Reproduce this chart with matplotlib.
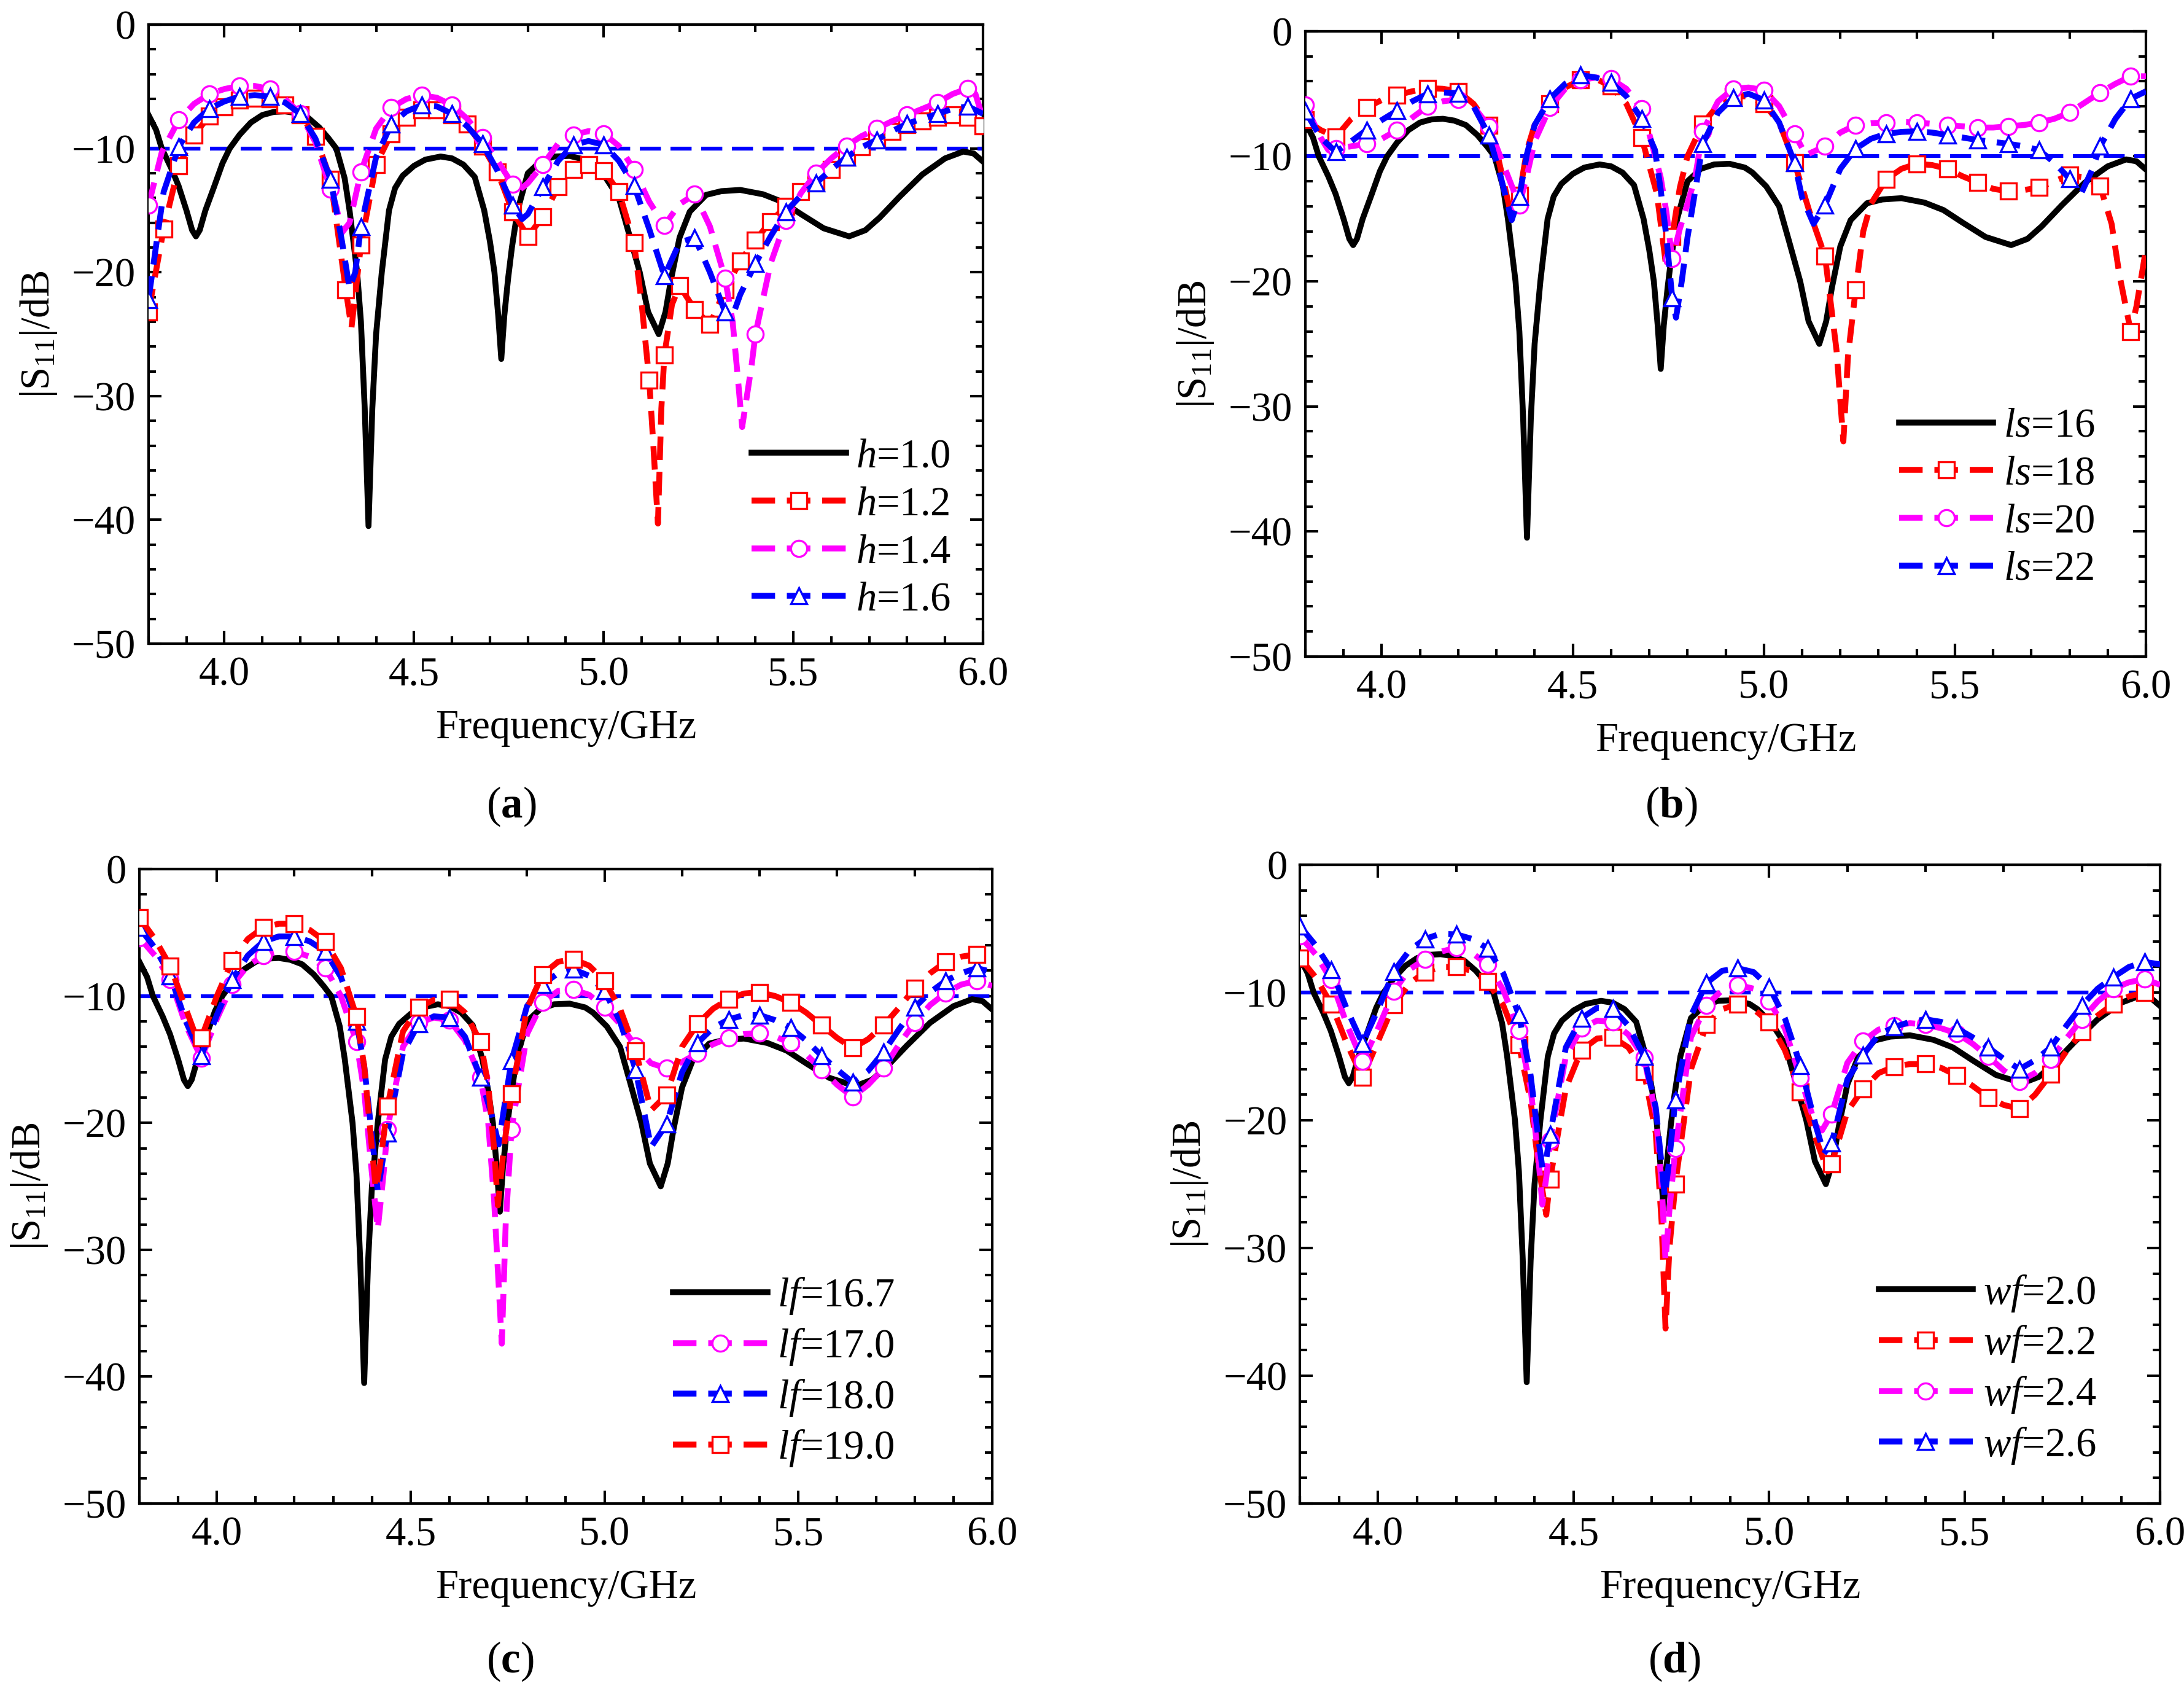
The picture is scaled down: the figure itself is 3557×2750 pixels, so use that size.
import numpy as np
import matplotlib
matplotlib.use("Agg")
import matplotlib.pyplot as plt
from matplotlib.lines import Line2D

# Times-like text, italic variable names in the legends
plt.rcParams['font.family'] = 'serif'
plt.rcParams['font.serif'] = ['Liberation Serif', 'DejaVu Serif']
plt.rcParams['mathtext.fontset'] = 'custom'
plt.rcParams['mathtext.rm'] = 'Liberation Serif'
plt.rcParams['mathtext.it'] = 'Liberation Serif:italic'
plt.rcParams['mathtext.bf'] = 'Liberation Serif:bold'

FS = 16

# -10 dB reference level
ref_level = -10

# reference antenna (h=1.0, ls=16, lf=16.7, wf=2.0), (GHz, dB)
base = [(3.80, -7.3), (3.82, -8.5), (3.835, -10.0), (3.86, -11.6), (3.879, -13.0),
        (3.90, -15.0), (3.915, -16.6), (3.925, -17.1), (3.935, -16.6), (3.95, -15.0),
        (3.974, -13.0), (3.995, -11.2), (4.014, -10.0), (4.04, -8.9), (4.07, -7.9),
        (4.10, -7.3), (4.13, -7.05), (4.16, -7.0), (4.19, -7.15), (4.22, -7.5),
        (4.25, -8.3), (4.275, -9.2), (4.295, -10.0), (4.317, -12.4), (4.33, -15.0),
        (4.34, -17.5), (4.35, -20.0), (4.36, -24.0), (4.37, -31.0), (4.38, -40.5),
        (4.39, -31.0), (4.40, -25.0), (4.415, -20.0), (4.434, -15.0), (4.45, -13.2),
        (4.47, -12.2), (4.50, -11.4), (4.53, -10.9), (4.57, -10.65), (4.60, -10.8),
        (4.63, -11.3), (4.66, -12.3), (4.685, -15.0), (4.70, -17.5), (4.712, -20.0),
        (4.722, -23.5), (4.73, -27.0), (4.738, -23.5), (4.748, -20.5), (4.758, -18.0),
        (4.773, -15.0), (4.80, -12.0), (4.835, -11.0), (4.87, -10.65), (4.91, -10.6),
        (4.95, -10.9), (4.97, -11.3), (5.006, -12.4), (5.04, -14.0), (5.065, -16.7),
        (5.095, -20.0), (5.117, -23.2), (5.145, -25.0), (5.163, -23.2), (5.178, -20.5),
        (5.20, -17.2), (5.227, -15.1), (5.27, -13.75), (5.31, -13.45), (5.36, -13.35),
        (5.42, -13.7), (5.47, -14.3), (5.52, -15.3), (5.58, -16.45), (5.647, -17.1),
        (5.69, -16.6), (5.727, -15.6), (5.78, -13.9), (5.84, -12.1), (5.90, -10.8),
        (5.948, -10.25), (5.975, -10.4), (6.00, -11.06)]

# (a) substrate thickness h
h12 = [(3.80, -23.2), (3.84, -16.5), (3.88, -11.4), (3.92, -8.9), (3.96, -7.4),
       (4.00, -6.65), (4.04, -6.1), (4.08, -5.95), (4.12, -6.0), (4.16, -6.5),
       (4.20, -7.3), (4.24, -9.0), (4.28, -12.5), (4.32, -21.4), (4.335, -24.5),
       (4.36, -17.8), (4.40, -11.3), (4.44, -8.8), (4.48, -7.5), (4.52, -6.9),
       (4.56, -6.9), (4.60, -7.3), (4.64, -8.05), (4.68, -9.8), (4.72, -11.9),
       (4.76, -15.1), (4.80, -17.1), (4.84, -15.5), (4.88, -13.1), (4.92, -11.7),
       (4.96, -11.3), (5.00, -11.8), (5.04, -13.5), (5.08, -17.6), (5.10, -22.5),
       (5.12, -28.7), (5.13, -33.5), (5.143, -40.3), (5.152, -31.0), (5.16, -26.7),
       (5.18, -22.6), (5.20, -21.1), (5.24, -23.0), (5.28, -24.2), (5.32, -21.4),
       (5.36, -19.1), (5.40, -17.4), (5.44, -15.9), (5.48, -14.7), (5.52, -13.5),
       (5.56, -12.7), (5.60, -11.7), (5.64, -10.7), (5.68, -9.85), (5.72, -9.2),
       (5.76, -8.6), (5.80, -8.1), (5.84, -7.8), (5.88, -7.5), (5.92, -7.3),
       (5.96, -7.5), (6.00, -8.2)]
h14 = [(3.80, -14.6), (3.835, -10.3), (3.88, -7.7), (3.92, -6.4), (3.96, -5.6),
       (4.00, -5.2), (4.04, -4.95), (4.08, -4.95), (4.12, -5.2), (4.16, -6.0),
       (4.20, -7.2), (4.24, -9.5), (4.28, -13.3), (4.295, -14.7), (4.31, -16.8),
       (4.33, -16.0), (4.36, -11.9), (4.40, -8.4), (4.44, -6.7), (4.48, -6.0),
       (4.52, -5.7), (4.56, -5.9), (4.60, -6.5), (4.64, -7.6), (4.68, -9.1),
       (4.72, -11.0), (4.76, -12.9), (4.78, -13.3), (4.80, -12.8), (4.84, -11.3),
       (4.88, -9.6), (4.92, -8.9), (4.96, -8.6), (5.00, -8.8), (5.04, -9.8),
       (5.08, -11.7), (5.12, -14.3), (5.16, -16.2), (5.20, -14.5), (5.24, -13.7),
       (5.28, -16.3), (5.32, -20.5), (5.34, -24.0), (5.355, -29.0), (5.365, -32.5),
       (5.375, -30.5), (5.39, -27.5), (5.40, -25.0), (5.44, -19.3), (5.48, -15.8),
       (5.52, -13.6), (5.56, -12.0), (5.60, -10.8), (5.64, -9.8), (5.68, -9.0),
       (5.72, -8.4), (5.76, -7.8), (5.80, -7.3), (5.84, -6.8), (5.88, -6.3),
       (5.92, -5.6), (5.96, -5.15), (5.98, -5.6), (6.00, -7.6)]
h16 = [(3.80, -22.2), (3.84, -13.5), (3.88, -9.85), (3.92, -7.9), (3.96, -6.8),
       (4.00, -6.2), (4.04, -5.8), (4.08, -5.7), (4.12, -5.8), (4.16, -6.3),
       (4.20, -7.2), (4.24, -9.2), (4.28, -12.5), (4.31, -17.5), (4.33, -21.3),
       (4.345, -20.0), (4.36, -16.3), (4.40, -10.7), (4.44, -8.05), (4.48, -7.0),
       (4.52, -6.5), (4.56, -6.6), (4.60, -7.2), (4.64, -8.2), (4.68, -9.6),
       (4.72, -11.8), (4.76, -14.6), (4.785, -15.7), (4.80, -15.3), (4.84, -13.1),
       (4.88, -11.0), (4.92, -9.7), (4.96, -9.4), (5.00, -9.7), (5.04, -11.0),
       (5.08, -13.0), (5.12, -16.5), (5.16, -20.3), (5.20, -17.6), (5.24, -17.2),
       (5.28, -20.0), (5.32, -23.2), (5.34, -23.5), (5.36, -21.8), (5.40, -19.3),
       (5.44, -17.1), (5.48, -15.1), (5.52, -13.8), (5.56, -12.8), (5.60, -11.7),
       (5.64, -10.7), (5.68, -9.9), (5.72, -9.3), (5.76, -8.6), (5.80, -8.0),
       (5.84, -7.6), (5.88, -7.2), (5.92, -6.8), (5.96, -6.6), (6.00, -7.2)]

# (b) slot length ls
ls18 = [(3.80, -7.1), (3.84, -7.9), (3.88, -8.45), (3.92, -7.0), (3.96, -6.1),
        (4.00, -5.5), (4.04, -5.1), (4.08, -4.8), (4.12, -4.55), (4.16, -4.6),
        (4.20, -4.8), (4.24, -5.8), (4.28, -7.5), (4.30, -9.5), (4.32, -12.2),
        (4.34, -14.9), (4.36, -13.1), (4.38, -9.5), (4.40, -7.5), (4.44, -5.8),
        (4.48, -4.5), (4.52, -3.9), (4.56, -3.8), (4.60, -4.4), (4.64, -5.8),
        (4.68, -8.5), (4.72, -13.0), (4.745, -19.0), (4.76, -16.4), (4.78, -12.5),
        (4.80, -10.0), (4.84, -7.4), (4.88, -5.9), (4.92, -5.2), (4.96, -5.2),
        (5.00, -5.8), (5.04, -7.3), (5.08, -10.5), (5.12, -14.5), (5.16, -18.0),
        (5.19, -25.5), (5.208, -32.8), (5.22, -26.0), (5.24, -20.7), (5.26, -16.0),
        (5.28, -13.8), (5.32, -11.85), (5.36, -11.0), (5.40, -10.6), (5.44, -10.7),
        (5.48, -11.0), (5.52, -11.6), (5.56, -12.1), (5.60, -12.6), (5.64, -12.8),
        (5.68, -12.7), (5.72, -12.5), (5.76, -12.0), (5.80, -11.5), (5.84, -11.7),
        (5.88, -12.4), (5.91, -15.4), (5.93, -19.4), (5.96, -24.0), (5.975, -22.0),
        (6.00, -17.4)]
ls20 = [(3.80, -5.9), (3.84, -8.5), (3.86, -9.5), (3.88, -9.4), (3.92, -9.2),
        (3.96, -9.0), (4.00, -8.6), (4.04, -7.9), (4.08, -6.9), (4.12, -6.0),
        (4.16, -5.6), (4.20, -5.45), (4.24, -6.0), (4.28, -7.6), (4.32, -10.8),
        (4.36, -13.9), (4.38, -11.5), (4.40, -8.8), (4.44, -6.1), (4.48, -4.6),
        (4.52, -3.9), (4.56, -3.7), (4.60, -3.8), (4.64, -4.6), (4.68, -6.2),
        (4.70, -8.2), (4.73, -11.7), (4.745, -14.5), (4.76, -18.2), (4.78, -15.8),
        (4.80, -13.8), (4.82, -11.7), (4.84, -8.0), (4.88, -5.6), (4.92, -4.6),
        (4.96, -4.5), (5.00, -4.7), (5.04, -6.0), (5.08, -8.2), (5.11, -9.9),
        (5.16, -9.2), (5.20, -8.1), (5.24, -7.5), (5.28, -7.35), (5.32, -7.3),
        (5.36, -7.25), (5.40, -7.3), (5.44, -7.4), (5.48, -7.5), (5.52, -7.6),
        (5.56, -7.7), (5.60, -7.7), (5.64, -7.6), (5.68, -7.5), (5.72, -7.3),
        (5.76, -7.0), (5.80, -6.5), (5.84, -5.7), (5.88, -4.9), (5.92, -4.2),
        (5.96, -3.6), (6.00, -3.6)]
ls22 = [(3.80, -6.4), (3.84, -8.5), (3.88, -9.65), (3.92, -8.8), (3.96, -7.9),
        (4.00, -7.1), (4.04, -6.35), (4.08, -5.6), (4.12, -5.0), (4.16, -4.9),
        (4.20, -4.95), (4.24, -6.0), (4.28, -8.3), (4.31, -11.5), (4.34, -15.1),
        (4.36, -13.2), (4.38, -9.8), (4.40, -7.5), (4.44, -5.4), (4.48, -4.2),
        (4.52, -3.5), (4.56, -3.7), (4.60, -4.1), (4.64, -5.2), (4.68, -7.0),
        (4.715, -9.5), (4.73, -12.7), (4.745, -16.5), (4.76, -21.3), (4.77, -22.9),
        (4.785, -20.0), (4.80, -16.5), (4.82, -12.8), (4.84, -9.0), (4.88, -6.5),
        (4.92, -5.3), (4.96, -5.0), (5.00, -5.5), (5.04, -7.3), (5.08, -10.5),
        (5.10, -13.3), (5.13, -15.4), (5.16, -13.9), (5.20, -11.0), (5.24, -9.4),
        (5.28, -8.6), (5.32, -8.2), (5.36, -8.05), (5.40, -8.0), (5.44, -8.1),
        (5.48, -8.3), (5.52, -8.5), (5.56, -8.7), (5.60, -8.85), (5.64, -9.0),
        (5.68, -9.2), (5.72, -9.5), (5.76, -10.5), (5.80, -11.8), (5.83, -13.0),
        (5.86, -11.0), (5.88, -9.2), (5.92, -7.0), (5.96, -5.4), (6.00, -4.8)]

# (c) feed length lf
lf170 = [(3.80, -5.4), (3.84, -6.8), (3.88, -8.7), (3.92, -12.3), (3.96, -14.9),
         (4.00, -11.8), (4.04, -9.1), (4.08, -7.6), (4.12, -6.8), (4.16, -6.5),
         (4.20, -6.5), (4.24, -6.9), (4.28, -7.8), (4.32, -10.0), (4.36, -13.6),
         (4.38, -17.5), (4.40, -24.0), (4.415, -28.4), (4.43, -24.0), (4.44, -20.5),
         (4.48, -14.0), (4.52, -12.1), (4.56, -11.7), (4.60, -11.9), (4.64, -13.5),
         (4.68, -16.4), (4.70, -20.0), (4.715, -26.0), (4.735, -37.4), (4.745, -28.0),
         (4.76, -20.5), (4.80, -13.0), (4.84, -10.5), (4.88, -9.6), (4.92, -9.5),
         (4.96, -9.9), (5.00, -10.9), (5.04, -12.2), (5.08, -13.95), (5.12, -15.3),
         (5.16, -15.7), (5.20, -15.2), (5.24, -14.5), (5.28, -13.8), (5.32, -13.3),
         (5.36, -13.0), (5.40, -12.9), (5.44, -13.2), (5.48, -13.7), (5.52, -14.6),
         (5.56, -15.8), (5.60, -17.0), (5.64, -17.95), (5.68, -17.0), (5.72, -15.7),
         (5.76, -13.8), (5.80, -12.1), (5.84, -10.7), (5.88, -9.75), (5.92, -9.1),
         (5.96, -8.8), (6.00, -9.2)]
lf180 = [(3.80, -4.6), (3.84, -6.2), (3.88, -8.4), (3.92, -12.0), (3.96, -14.7),
         (4.00, -11.5), (4.04, -8.7), (4.08, -6.8), (4.12, -5.7), (4.16, -5.3),
         (4.20, -5.3), (4.24, -5.7), (4.28, -6.5), (4.32, -8.5), (4.36, -12.0),
         (4.38, -15.5), (4.40, -21.0), (4.415, -25.4), (4.43, -22.5), (4.44, -20.8),
         (4.48, -14.5), (4.52, -12.2), (4.56, -11.6), (4.60, -11.7), (4.64, -13.2),
         (4.68, -16.4), (4.71, -19.5), (4.727, -21.7), (4.74, -19.0), (4.76, -15.1),
         (4.80, -10.8), (4.84, -9.1), (4.88, -8.2), (4.92, -7.9), (4.96, -8.4),
         (5.00, -9.6), (5.04, -12.0), (5.08, -15.8), (5.12, -21.9), (5.16, -20.1),
         (5.20, -16.0), (5.24, -13.7), (5.28, -12.5), (5.32, -11.85), (5.36, -11.5),
         (5.40, -11.5), (5.44, -11.9), (5.48, -12.5), (5.52, -13.5), (5.56, -14.7),
         (5.60, -15.8), (5.64, -16.8), (5.68, -15.9), (5.72, -14.4), (5.76, -12.6),
         (5.80, -10.9), (5.84, -9.7), (5.88, -8.8), (5.92, -8.2), (5.96, -7.8),
         (6.00, -8.1)]
lf190 = [(3.80, -3.8), (3.84, -5.5), (3.88, -7.65), (3.92, -11.0), (3.95, -13.5),
         (3.96, -13.3), (4.00, -10.0), (4.04, -7.2), (4.08, -5.5), (4.12, -4.6),
         (4.16, -4.3), (4.20, -4.3), (4.24, -4.8), (4.28, -5.7), (4.32, -7.8),
         (4.36, -11.6), (4.38, -15.5), (4.40, -22.0), (4.41, -25.2), (4.42, -23.5),
         (4.44, -18.7), (4.48, -12.8), (4.52, -10.9), (4.56, -10.3), (4.60, -10.25),
         (4.64, -11.3), (4.68, -13.6), (4.70, -17.0), (4.715, -22.0), (4.725, -26.5),
         (4.74, -22.0), (4.76, -17.7), (4.80, -11.0), (4.84, -8.3), (4.88, -7.3),
         (4.92, -7.1), (4.96, -7.6), (5.00, -8.8), (5.04, -11.0), (5.08, -14.3),
         (5.12, -19.0), (5.16, -17.8), (5.20, -14.0), (5.24, -12.2), (5.28, -11.0),
         (5.32, -10.25), (5.36, -9.8), (5.40, -9.7), (5.44, -10.0), (5.48, -10.5),
         (5.52, -11.3), (5.56, -12.3), (5.60, -13.3), (5.64, -14.1), (5.68, -13.4),
         (5.72, -12.3), (5.76, -10.9), (5.80, -9.4), (5.84, -8.2), (5.88, -7.3),
         (5.92, -6.9), (5.96, -6.7), (6.00, -7.2)]

# (d) feed width wf
wf22 = [(3.80, -7.3), (3.84, -8.8), (3.88, -10.9), (3.92, -14.0), (3.96, -16.65),
        (4.00, -13.8), (4.04, -10.95), (4.08, -9.3), (4.12, -8.4), (4.16, -8.0),
        (4.20, -8.0), (4.24, -8.3), (4.28, -9.15), (4.32, -11.0), (4.36, -14.1),
        (4.39, -18.5), (4.41, -23.5), (4.43, -27.4), (4.44, -24.6), (4.48, -17.5),
        (4.52, -14.5), (4.56, -13.6), (4.60, -13.5), (4.64, -14.3), (4.68, -16.2),
        (4.71, -21.0), (4.725, -28.0), (4.735, -36.3), (4.745, -30.0), (4.76, -25.0),
        (4.80, -16.0), (4.84, -12.5), (4.88, -11.3), (4.92, -10.9), (4.96, -11.3),
        (5.00, -12.3), (5.04, -14.5), (5.08, -17.8), (5.12, -21.5), (5.15, -24.0),
        (5.16, -23.4), (5.20, -19.3), (5.24, -17.55), (5.28, -16.3), (5.32, -15.8),
        (5.36, -15.6), (5.40, -15.6), (5.44, -15.9), (5.48, -16.5), (5.52, -17.3),
        (5.56, -18.2), (5.60, -18.8), (5.64, -19.1), (5.68, -18.0), (5.72, -16.4),
        (5.76, -14.6), (5.80, -13.1), (5.84, -11.8), (5.88, -10.9), (5.92, -10.3),
        (5.96, -10.0), (6.00, -10.2)]
wf24 = [(3.80, -5.6), (3.84, -7.0), (3.88, -9.0), (3.92, -12.5), (3.96, -15.4),
        (4.00, -12.8), (4.04, -9.9), (4.08, -8.2), (4.12, -7.4), (4.16, -6.8),
        (4.20, -6.5), (4.24, -6.9), (4.28, -7.8), (4.32, -9.8), (4.36, -13.0),
        (4.39, -17.5), (4.41, -23.0), (4.42, -26.6), (4.43, -24.5), (4.44, -21.6),
        (4.48, -15.0), (4.52, -12.8), (4.56, -12.2), (4.60, -12.3), (4.64, -13.3),
        (4.68, -15.1), (4.71, -19.5), (4.725, -25.0), (4.735, -31.0), (4.745, -27.0),
        (4.76, -22.2), (4.80, -13.5), (4.84, -11.0), (4.88, -9.8), (4.92, -9.4),
        (4.96, -9.7), (5.00, -10.65), (5.04, -12.8), (5.08, -16.7), (5.12, -20.5),
        (5.135, -20.8), (5.16, -19.5), (5.20, -15.5), (5.24, -13.8), (5.28, -12.9),
        (5.32, -12.6), (5.36, -12.4), (5.40, -12.5), (5.44, -12.8), (5.48, -13.2),
        (5.52, -14.0), (5.56, -15.0), (5.60, -16.1), (5.64, -16.95), (5.68, -16.3),
        (5.72, -15.25), (5.76, -13.6), (5.80, -12.1), (5.84, -10.7), (5.88, -9.7),
        (5.92, -9.2), (5.96, -8.95), (6.00, -9.4)]
wf26 = [(3.80, -4.8), (3.84, -6.3), (3.88, -8.2), (3.92, -11.3), (3.96, -14.0),
        (4.00, -11.3), (4.04, -8.35), (4.08, -6.7), (4.12, -5.8), (4.16, -5.4),
        (4.20, -5.45), (4.24, -5.8), (4.28, -6.55), (4.32, -8.5), (4.36, -11.75),
        (4.39, -16.5), (4.41, -21.5), (4.42, -23.7), (4.43, -23.0), (4.44, -21.1),
        (4.48, -14.3), (4.52, -12.0), (4.56, -11.2), (4.60, -11.25), (4.64, -12.6),
        (4.68, -15.0), (4.71, -19.0), (4.725, -23.5), (4.733, -26.0), (4.745, -23.0),
        (4.76, -18.4), (4.80, -11.8), (4.84, -9.25), (4.88, -8.3), (4.92, -8.1),
        (4.96, -8.4), (5.00, -9.55), (5.04, -12.0), (5.08, -15.7), (5.12, -20.5),
        (5.14, -22.6), (5.16, -21.8), (5.20, -16.8), (5.24, -14.9), (5.28, -13.3),
        (5.32, -12.7), (5.36, -12.3), (5.40, -12.1), (5.44, -12.3), (5.48, -12.8),
        (5.52, -13.5), (5.56, -14.3), (5.60, -15.2), (5.64, -16.0), (5.68, -15.3),
        (5.72, -14.3), (5.76, -12.6), (5.80, -11.0), (5.84, -9.7), (5.88, -8.8),
        (5.92, -8.0), (5.96, -7.6), (6.00, -7.8)]

# line styles
RED = '#ff0000'
MAG = '#ff00ff'
BLU = '#0000ff'
LW = 2.3
DASH = (4, 2)
MS = 6.3
STYLE = {'black': ('black', None), 'red': (RED, 's'), 'mag': (MAG, 'o'), 'blue': (BLU, '^')}

# panels: axes rect, legend anchor, panel label y, curves (data, style, label, marker step)
panels = [
    ([0.0680, 0.6189, 0.3821, 0.3665], (0.962, 0.040), -0.263, 'a',
     [(base, 'black', '$h$=1.0', 0), (h12, 'red', '$h$=1.2', 0.04),
      (h14, 'mag', '$h$=1.4', 0.08), (h16, 'blue', '$h$=1.6', 0.08)]),
    ([0.5977, 0.6113, 0.3849, 0.3702], (0.939, 0.109), -0.240, 'b',
     [(base, 'black', '$ls$=16', 0), (ls18, 'red', '$ls$=18', 0.08),
      (ls20, 'mag', '$ls$=20', 0.08), (ls22, 'blue', '$ls$=22', 0.08)]),
    ([0.0638, 0.1098, 0.3905, 0.3756], (0.886, 0.055), -0.249, 'c',
     [(base, 'black', '$lf$=16.7', 0), (lf170, 'mag', '$lf$=17.0', 0.08),
      (lf180, 'blue', '$lf$=18.0', 0.08), (lf190, 'red', '$lf$=19.0', 0.08)]),
    ([0.5952, 0.1098, 0.3939, 0.3782], (0.926, 0.059), -0.247, 'd',
     [(base, 'black', '$wf$=2.0', 0), (wf22, 'red', '$wf$=2.2', 0.08),
      (wf24, 'mag', '$wf$=2.4', 0.08), (wf26, 'blue', '$wf$=2.6', 0.08)]),
]

fig = plt.figure(figsize=(3557 / 300, 2750 / 300), dpi=300)

for rect, leg_anchor, lab_y, tag, curves in panels:
    ax = fig.add_axes(rect)
    handles = []
    for z, (pts, sty, label, step) in enumerate(curves):
        f = np.array([p[0] for p in pts])
        s = np.array([p[1] for p in pts])
        color, marker = STYLE[sty]
        if marker is None:
            ax.plot(f, s, color=color, lw=LW, zorder=3)
            handles.append(Line2D([0], [0], color=color, lw=LW, label=label))
            continue
        ax.plot(f, s, color=color, lw=LW, dashes=DASH, zorder=3 + z)
        # markers sit on a regular frequency grid
        k = (f - 3.8) / step
        on = np.isclose(k, np.round(k), atol=1e-3)
        ax.plot(f[on], s[on], ls='none', marker=marker, ms=MS, mfc='white',
                mec=color, mew=0.8, zorder=3.5 + z)
        handles.append(Line2D([0], [0], color=color, lw=LW, dashes=DASH, marker=marker,
                              ms=MS, mfc='white', mec=color, mew=0.8, label=label))

    ax.axhline(ref_level, color=BLU, lw=1.5, dashes=(5.5, 2.5), zorder=2)

    ax.set_xlim(3.8, 6.0)
    ax.set_ylim(-50, 0)
    ax.set_xticks(np.arange(4.0, 6.01, 0.5))
    ax.set_xticks(np.arange(3.8, 6.001, 0.1), minor=True)
    ax.set_yticks(np.arange(-50, 1, 10))
    ax.set_yticks(np.arange(-50, 1, 2), minor=True)
    ax.xaxis.set_major_formatter(plt.FormatStrFormatter('%.1f'))
    ax.tick_params(axis='both', which='both', direction='in', labelsize=FS, width=1.0)
    ax.tick_params(axis='y', which='both', right=True)
    ax.tick_params(which='major', length=5, pad=5)
    ax.tick_params(which='minor', length=2.8)

    # top axis: long ticks at whole GHz, short ones every 0.2 GHz
    top = ax.secondary_xaxis('top')
    top.set_xticks([4.0, 5.0])
    top.set_xticks(np.arange(4.2, 5.81, 0.2), minor=True)
    top.set_xticklabels([])
    top.tick_params(which='both', direction='in', width=1.0)
    top.tick_params(which='major', length=5)
    top.tick_params(which='minor', length=2.8)
    for sp in ax.spines.values():
        sp.set_linewidth(1.0)
    top.spines['top'].set_linewidth(1.0)

    ax.set_xlabel('Frequency/GHz', fontsize=FS, labelpad=6)
    ax.set_ylabel('|S$_{11}$|/dB', fontsize=FS, labelpad=5)
    ax.text(0.435, lab_y, '($\\mathbf{%s}$)' % tag, transform=ax.transAxes,
            ha='center', va='center', fontsize=FS + 1)

    ax.legend(handles=handles, loc='lower right', bbox_to_anchor=leg_anchor,
              frameon=False, fontsize=FS, numpoints=1, handlelength=2.3,
              handletextpad=0.25, labelspacing=0.25, borderpad=0, borderaxespad=0)

fig.savefig('out.png', dpi=300)
